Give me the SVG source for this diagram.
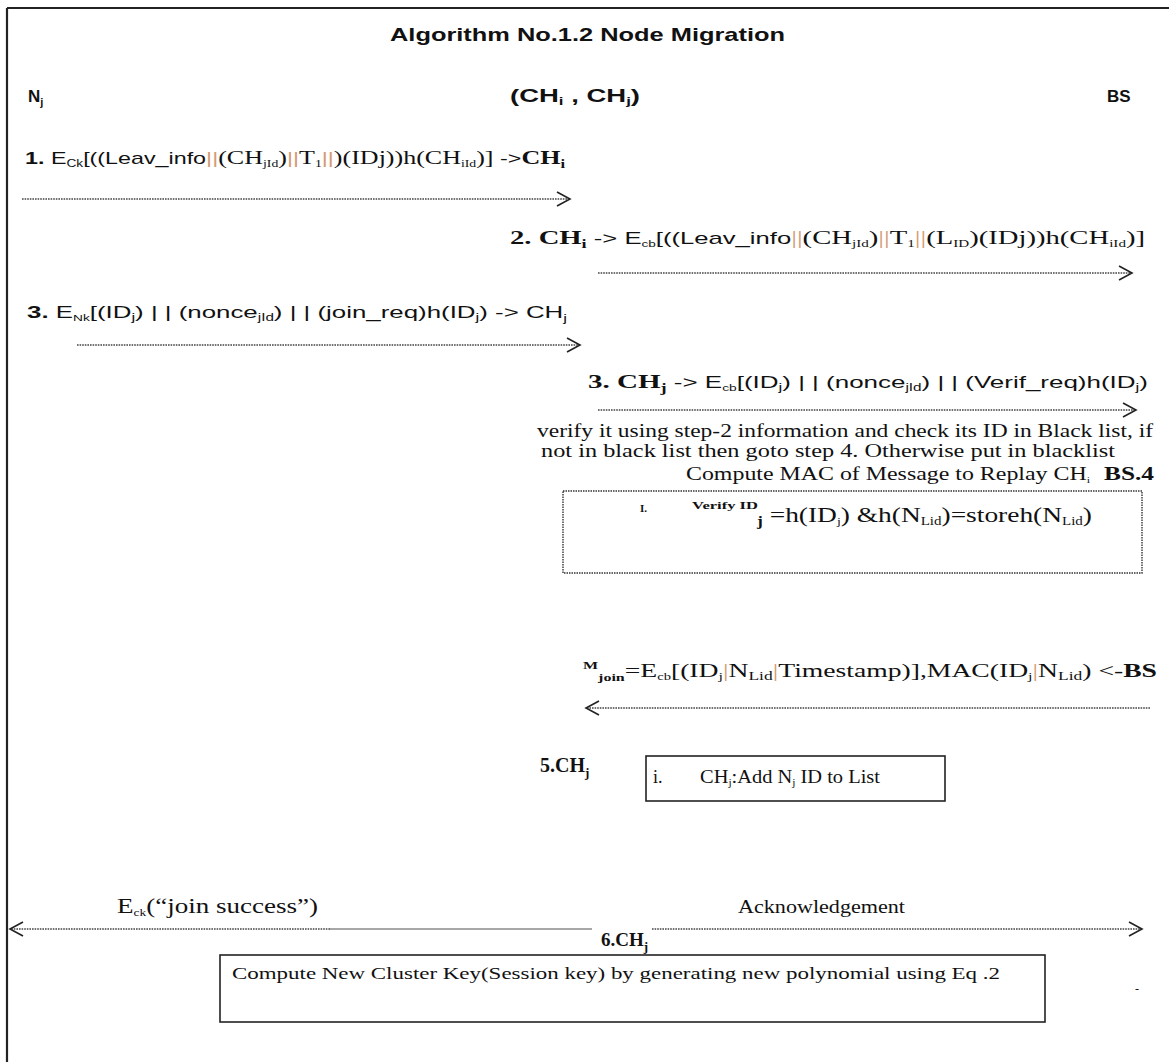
<svg xmlns="http://www.w3.org/2000/svg" width="1169" height="1062" viewBox="0 0 1169 1062">
<defs>
<marker id="ah" markerWidth="16" markerHeight="16" refX="14" refY="8" orient="auto" markerUnits="userSpaceOnUse">
<path d="M1,1 L14,8 L1,15" fill="none" stroke="#222" stroke-width="1.6"/>
</marker>
<style>
.sans{font-family:"Liberation Sans","DejaVu Sans",sans-serif;fill:#111}
.serif{font-family:"Liberation Serif","DejaVu Serif",serif;fill:#111}
.b{font-weight:bold}
.pp{fill:#d49a72}
.dot{fill:none;stroke:#444;stroke-width:1.3;stroke-dasharray:1.6 1}
.gline{fill:none;stroke:#8a8a8a;stroke-width:1.5}
.box{fill:none;stroke:#222;stroke-width:1.6}
.dbox{fill:none;stroke:#333;stroke-width:1.4;stroke-dasharray:1.5 1}
</style>
</defs>
<rect width="1169" height="1062" fill="#fff"/>
<g id="frame">
<line x1="7" y1="8" x2="1169" y2="8" stroke="#222" stroke-width="2.2"/>
<line x1="7" y1="8" x2="7" y2="1062" stroke="#222" stroke-width="2.2"/>
</g>
<g id="title"><text class="sans b" x="390" y="41" font-size="19" textLength="395" lengthAdjust="spacingAndGlyphs">Algorithm No.1.2 Node Migration</text></g>
<g id="node-Nj"><text class="sans b" x="28" y="102" font-size="17">N<tspan font-size="11" dy="4">j</tspan></text></g>
<g id="node-CH"><text class="sans b" x="510" y="102" font-size="18" textLength="130" lengthAdjust="spacingAndGlyphs">(CH<tspan font-size="11" dy="3">i</tspan><tspan dy="-3"> , CH</tspan><tspan font-size="11" dy="3">j</tspan><tspan dy="-3">)</tspan></text></g>
<g id="node-BS"><text class="sans b" x="1107" y="102" font-size="17">BS</text></g>

<g id="msg1"><text class="sans" x="25" y="164" font-size="17" textLength="540" lengthAdjust="spacingAndGlyphs"><tspan class="b">1.</tspan> E<tspan font-size="10" dy="3">Ck</tspan><tspan dy="-3">[((Leav_info</tspan><tspan class="pp">||</tspan><tspan class="serif" font-size="19">(CH</tspan><tspan class="serif" font-size="10" dy="3">jId</tspan><tspan class="serif" font-size="19" dy="-3">)</tspan><tspan class="pp">||</tspan><tspan class="serif" font-size="19">T</tspan><tspan class="serif" font-size="10" dy="3">1</tspan><tspan class="pp" dy="-3">||</tspan><tspan class="serif" font-size="19">)(IDj))h(CH</tspan><tspan class="serif" font-size="10" dy="3">iId</tspan><tspan class="serif" font-size="19" dy="-3">)] </tspan><tspan>-&gt;</tspan><tspan class="serif b" font-size="19">CH</tspan><tspan class="serif b" font-size="12" dy="4">i</tspan></text></g>

<g id="msg2"><text class="serif" x="510" y="244" font-size="19" textLength="635" lengthAdjust="spacingAndGlyphs"><tspan class="b">2. CH</tspan><tspan class="b" font-size="12" dy="4">i</tspan><tspan class="sans" font-size="17" dy="-4"> -&gt;  E</tspan><tspan class="sans" font-size="9" dy="3">cb</tspan><tspan class="sans" font-size="17" dy="-3">[((Leav_info</tspan><tspan class="pp">||</tspan><tspan>(CH</tspan><tspan font-size="10" dy="3">jId</tspan><tspan dy="-3">)</tspan><tspan class="pp">||</tspan><tspan>T</tspan><tspan font-size="10" dy="3">1</tspan><tspan class="pp" dy="-3">||</tspan><tspan>(L</tspan><tspan font-size="10" dy="3">ID</tspan><tspan dy="-3">)(IDj))h(CH</tspan><tspan font-size="10" dy="3">iId</tspan><tspan dy="-3">)]</tspan></text></g>

<g id="msg3"><text class="sans" x="27" y="318" font-size="17" textLength="540" lengthAdjust="spacingAndGlyphs"><tspan class="b">3.</tspan>  E<tspan font-size="9" dy="3">Nk</tspan><tspan dy="-3">[(ID</tspan><tspan font-size="11" dy="3">j</tspan><tspan dy="-3">) | | (nonce</tspan><tspan font-size="10" dy="3">jId</tspan><tspan dy="-3">) | | (join_req)h(ID</tspan><tspan font-size="11" dy="3">j</tspan><tspan dy="-3">)    -&gt; CH</tspan><tspan font-size="11" dy="4">j</tspan></text></g>

<g id="msg3b"><text class="sans" x="588" y="388" font-size="17" textLength="560" lengthAdjust="spacingAndGlyphs"><tspan class="serif b" font-size="19">3. CH</tspan><tspan class="serif b" font-size="12" dy="4">j</tspan><tspan dy="-4"> -&gt;  E</tspan><tspan font-size="9" dy="3">cb</tspan><tspan dy="-3">[(ID</tspan><tspan font-size="11" dy="3">j</tspan><tspan dy="-3">) | | (nonce</tspan><tspan font-size="10" dy="3">jId</tspan><tspan dy="-3">) | | (Verif_req)h(ID</tspan><tspan font-size="11" dy="3">j</tspan><tspan dy="-3">)</tspan></text></g>

<g id="verify-text">
<text class="serif" x="537" y="437" font-size="18" textLength="616" lengthAdjust="spacingAndGlyphs">verify it using step-2 information and check its ID in Black list, if</text>
<text class="serif" x="541" y="457" font-size="18" textLength="574" lengthAdjust="spacingAndGlyphs">not in   black list then goto step 4. Otherwise put in blacklist</text>
<text class="serif" x="686" y="480" font-size="18" textLength="404" lengthAdjust="spacingAndGlyphs">Compute MAC of Message to Replay CH<tspan font-size="9" dy="3">i</tspan></text>
<text class="serif b" x="1104" y="480" font-size="18" textLength="50" lengthAdjust="spacingAndGlyphs">BS.4</text>
</g>

<g id="verify-box">
<rect class="dbox" x="563" y="491" width="579" height="82"/>
<text class="serif b" x="640" y="512" font-size="11">I.</text>
<text class="serif b" x="692" y="509" font-size="11" textLength="66" lengthAdjust="spacingAndGlyphs">Verify ID</text>
<text class="serif" x="757" y="522" font-size="22" textLength="335" lengthAdjust="spacingAndGlyphs"><tspan class="b" font-size="14" dy="4">j</tspan><tspan dy="-4"> =h(ID</tspan><tspan font-size="11" dy="3">j</tspan><tspan dy="-3">) &amp;h(N</tspan><tspan font-size="12" dy="3">Lid</tspan><tspan dy="-3">)=storeh(N</tspan><tspan font-size="12" dy="3">Lid</tspan><tspan dy="-3">)</tspan></text>
</g>

<g id="msg4"><text class="serif" x="583" y="677" font-size="19" textLength="574" lengthAdjust="spacingAndGlyphs"><tspan class="b" font-size="11" dy="-8">M</tspan><tspan class="b" font-size="11" dy="12">join</tspan><tspan dy="-4">=E</tspan><tspan font-size="10" dy="3">cb</tspan><tspan dy="-3">[(ID</tspan><tspan font-size="11" dy="3">j</tspan><tspan class="pp" dy="-3">|</tspan><tspan>N</tspan><tspan font-size="12" dy="3">Lid</tspan><tspan class="pp" dy="-3">|</tspan><tspan>Timestamp)],MAC(ID</tspan><tspan font-size="11" dy="3">j</tspan><tspan class="pp" dy="-3">|</tspan><tspan>N</tspan><tspan font-size="12" dy="3">Lid</tspan><tspan dy="-3">) &lt;-</tspan><tspan class="b">BS</tspan></text></g>

<g id="step5">
<text class="serif b" x="540" y="772" font-size="20">5.CH<tspan font-size="13" dy="5">j</tspan></text>
<rect class="box" x="646" y="756" width="299" height="45"/>
<text class="serif" x="653" y="783" font-size="18">i.</text>
<text class="serif" x="700" y="783" font-size="18" textLength="180" lengthAdjust="spacingAndGlyphs">CH<tspan font-size="10" dy="3">j</tspan><tspan dy="-3">:Add N</tspan><tspan font-size="10" dy="3">j</tspan><tspan dy="-3"> ID to List</tspan></text>
</g>

<g id="step6">
<text class="serif" x="117" y="913" font-size="20" textLength="201" lengthAdjust="spacingAndGlyphs"><tspan>E</tspan><tspan font-size="10" dy="3">ck</tspan><tspan dy="-3">(“join success”)</tspan></text>
<text class="serif" x="738" y="913" font-size="19" textLength="167" lengthAdjust="spacingAndGlyphs">Acknowledgement</text>
<text class="serif b" x="601" y="946" font-size="19">6.CH<tspan font-size="13" dy="5">j</tspan></text>
</g>

<g id="final-box">
<rect class="box" x="220" y="955" width="825" height="67"/>
<text class="serif" x="232" y="979" font-size="17" textLength="768" lengthAdjust="spacingAndGlyphs">Compute New Cluster Key(Session key) by generating new polynomial using Eq .2</text>
<text class="serif" x="1135" y="993" font-size="12">-</text>
</g>

<g id="connectors">
<line class="dot" x1="22" y1="199" x2="570" y2="199" marker-end="url(#ah)"/>
<line class="dot" x1="598" y1="273" x2="1132" y2="273" marker-end="url(#ah)"/>
<line class="dot" x1="77" y1="345" x2="580" y2="345" marker-end="url(#ah)"/>
<line class="dot" x1="598" y1="410" x2="1136" y2="410" marker-end="url(#ah)"/>
<line class="dot" x1="1150" y1="708" x2="586" y2="708" marker-end="url(#ah)"/>
<line class="gline" x1="592" y1="929" x2="330" y2="929"/>
<line class="dot" x1="330" y1="929" x2="10" y2="929" marker-end="url(#ah)"/>
<line class="dot" x1="652" y1="929" x2="1142" y2="929" marker-end="url(#ah)"/>
</g>
</svg>
